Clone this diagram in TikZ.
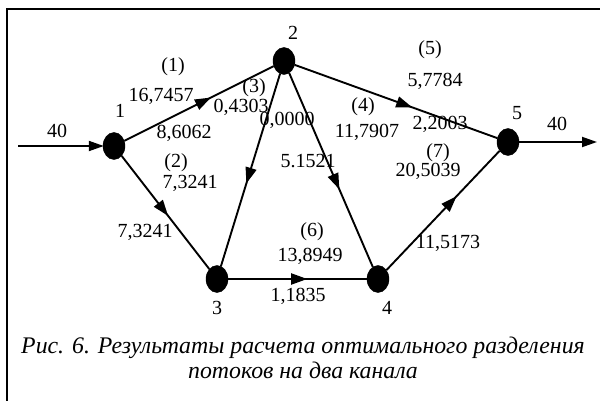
\documentclass[tikz,border=0pt]{standalone}
\usepackage{fontspec}
\setmainfont{Liberation Serif}
\usetikzlibrary{shapes.geometric,arrows.meta,decorations.markings}
\tikzset{
  vert/.style={ellipse,fill=black,draw=black,minimum width=22pt,minimum height=27pt,inner sep=0pt},
  lbl/.style={inner sep=0pt,font=\fontsize{20}{22}\selectfont},
  conn/.style={line width=1.9pt},
  endarrow/.style={-{Triangle[length=15pt,width=10pt]}},
  midarrow/.style={postaction={decorate,decoration={markings,mark=at position #1 with {\arrow{Triangle[length=16pt,width=11pt]}}}}},
  captext/.style={inner sep=0pt,font=\fontsize{23.8}{25}\selectfont\itshape,align=center}
}
\begin{document}
\begin{tikzpicture}[x=1pt,y=-1pt]
\useasboundingbox (0,0) rectangle (600,401);
% frame
\coordinate (fbl) at (7,402);
\coordinate (ftl) at (7,9);
\coordinate (ftr) at (601,9);
\draw[line width=2.5pt] (fbl) -- (ftl) -- (ftr);
% vertices
\node[vert] (n1) at (114,146) {};
\node[vert] (n2) at (284,61) {};
\node[vert] (n3) at (217,279) {};
\node[vert] (n4) at (378,279) {};
\node[vert] (n5) at (508,142) {};
\coordinate (in) at (18,146);
\coordinate (out) at (597,142);
% edges
\draw[conn,endarrow,shorten >=-1pt] (in) -- (n1);
\draw[conn,endarrow] (n5) -- (out);
\draw[conn,midarrow=0.58] (n1) -- (n2);
\draw[conn,midarrow=0.58] (n2) -- (n5);
\draw[conn,midarrow=0.57] (n2) -- (n3);
\draw[conn,midarrow=0.6] (n2) -- (n4);
\draw[conn,midarrow=0.53] (n1) -- (n3);
\draw[conn,midarrow=0.57] (n3) -- (n4);
\draw[conn,midarrow=0.62] (n4) -- (n5);
% vertex labels
\node[lbl] (l1) at (120,111) {1};
\node[lbl] (l2) at (293,33) {2};
\node[lbl] (l3) at (217,308) {3};
\node[lbl] (l4) at (387,308) {4};
\node[lbl] (l5) at (517,113) {5};
\node[lbl] (lin) at (57,131) {40};
\node[lbl] (lout) at (557,124) {40};
% edge labels
\node[lbl] (e1a) at (173,67) {(1)};
\node[lbl] (e1b) at (161,96) {16,7457};
\node[lbl] (e1c) at (184,133) {8,6062};
\node[lbl] (e3a) at (254,88) {(3)};
\node[lbl] (e3b) at (241,107) {0,4303};
\node[lbl] (e3c) at (287,120) {0,0000};
\node[lbl] (e4d) at (308,161) {5.1521};
\node[lbl] (e2a) at (176,163) {(2)};
\node[lbl] (e2b) at (190,183) {7,3241};
\node[lbl] (e2c) at (145,232) {7,3241};
\node[lbl] (e6a) at (312,232) {(6)};
\node[lbl] (e6b) at (310,256) {13,8949};
\node[lbl] (e6c) at (298,296) {1,1835};
\node[lbl] (e4a) at (363,107) {(4)};
\node[lbl] (e4b) at (367,132) {11,7907};
\node[lbl] (e5a) at (430,50) {(5)};
\node[lbl] (e5b) at (435,81) {5,7784};
\node[lbl] (e5c) at (440,124) {2,2003};
\node[lbl] (e7a) at (438,153) {(7)};
\node[lbl] (e7b) at (428,171) {20,5039};
\node[lbl] (e7c) at (448,243) {11,5173};
% caption
\node[captext] (caption) at (303,358) {Рис. 6. Результаты расчета оптимального разделения\\потоков на два канала};
\end{tikzpicture}
\end{document}
